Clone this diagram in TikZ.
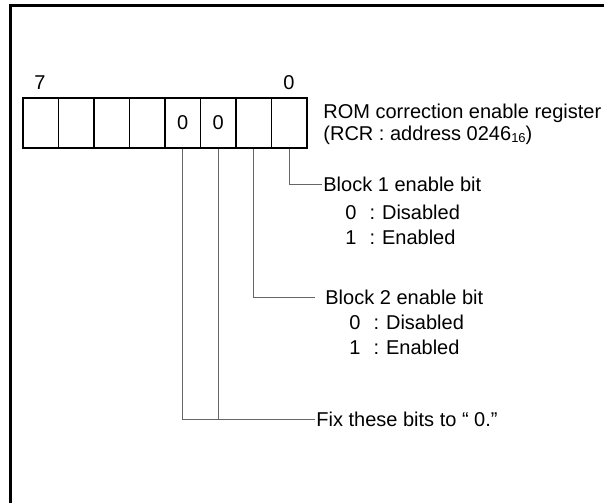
\documentclass[tikz,border=0pt]{standalone}
\usepackage{fontspec}
\setmainfont{Liberation Sans}
\usepackage{tikz}
\usetikzlibrary{positioning}

\begin{document}
\begin{tikzpicture}[
  x=0.5pt, y=-0.5pt,
  every node/.style={font=\fontsize{10}{12}\selectfont},
  cell/.style={draw, line width=0.9pt, minimum width=17.75pt, minimum height=25pt, inner sep=0pt},
  txt/.style={anchor=west, inner sep=0.5pt},
  ln/.style={draw=black!60, line width=0.5pt},
]
\useasboundingbox (0,0) rectangle (604,503);
% Frame
\draw[line width=1.5pt] (10,503) -- (10,5) -- (604,5);

% Register cells, bit 7 to bit 0
\node[cell] (b7) at (40.75,122.7) {};
\node[cell] (b6) at (76.25,122.7) {};
\node[cell] (b5) at (111.75,122.7) {};
\node[cell] (b4) at (147.25,122.7) {};
\node[cell] (b3) at (182.75,122.7) {0};
\node[cell] (b2) at (218.25,122.7) {0};
\node[cell] (b1) at (253.75,122.7) {};
\node[cell] (b0) at (289.25,122.7) {};

% Bit numbers
\node (n7) at (40,83) {7};
\node (n0) at (289,83) {0};

% Register name
\node[txt] (rom) at (322,113) {ROM correction enable register};
\node[txt] (rcr) at (322,135) {(RCR : address 0246\raisebox{-0.25ex}{\fontsize{6.5}{7}\selectfont 16})};

% Block 1
\node[txt] (blk1) at (322,184) {Block 1 enable bit};
\node[txt] (blk1a) at (344,212) {0\hspace{0.65em}:\hspace{0.35em}Disabled};
\node[txt] (blk1b) at (344,237) {1\hspace{0.65em}:\hspace{0.35em}Enabled};

% Block 2
\node[txt, inner xsep=5pt] (blk2) at (315,297) {Block 2 enable bit};
\node[txt] (blk2a) at (348,322) {0\hspace{0.65em}:\hspace{0.35em}Disabled};
\node[txt] (blk2b) at (348,347) {1\hspace{0.65em}:\hspace{0.35em}Enabled};

% Fixed bits
\node[txt] (fix) at (315,419) {Fix these bits to “ 0.”};

% Leader lines
\draw[ln] (b0.south) |- (blk1.west);
\draw[ln] (b1.south) |- (blk2.west);
\draw[ln] (b3.south) |- (fix.west);
\draw[ln] (b2.south) -- (b2.south |- fix.west);
\end{tikzpicture}
\end{document}
